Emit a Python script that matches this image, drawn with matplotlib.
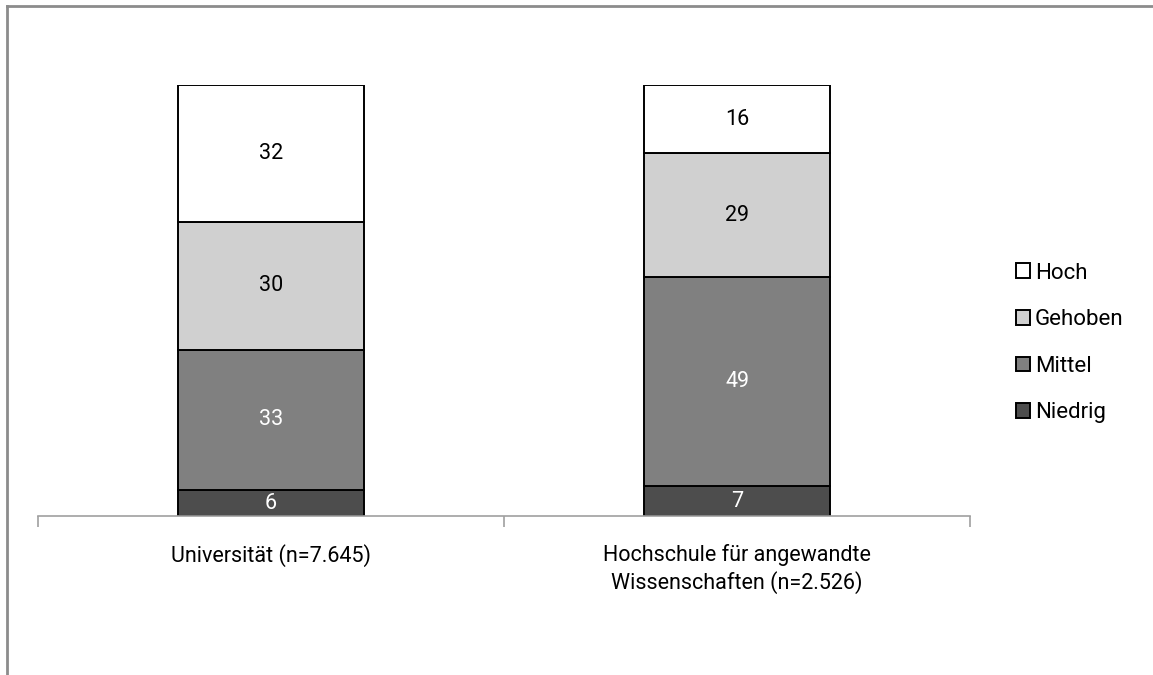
import matplotlib.pyplot as plt
from matplotlib.lines import Line2D
import numpy as np

plt.rcParams['font.family'] = ['Roboto', 'DejaVu Sans']

categories = ['Universität (n=7.645)', 'Hochschule für angewandte\nWissenschaften (n=2.526)']
series = ['Niedrig', 'Mittel', 'Gehoben', 'Hoch']
values = {
    'Niedrig': [6, 7],
    'Mittel': [33, 49],
    'Gehoben': [30, 29],
    'Hoch': [32, 16],
}
colors = {'Niedrig': '#4d4d4d', 'Mittel': '#808080', 'Gehoben': '#d0d0d0', 'Hoch': '#ffffff'}
label_colors = {'Niedrig': 'white', 'Mittel': 'white', 'Gehoben': 'black', 'Hoch': 'black'}

fig = plt.figure(figsize=(11.53, 6.75), dpi=100)
ax = fig.add_axes([38/1153, 1 - 516/675, (970-38)/1153, (516-85)/675])

x = np.arange(len(categories))
bottom = np.zeros(len(categories))
handles = {}
for s in series:
    vals = np.array(values[s], dtype=float)
    bars = ax.bar(x, vals, 0.4, bottom=bottom, color=colors[s], edgecolor='black',
                  linewidth=1.4, label=s, zorder=2)
    handles[s] = bars
    for xi, v, b in zip(x, vals, bottom):
        ax.text(xi, b + v / 2, f'{v:.0f}', ha='center', va='center',
                fontsize=15.5, color=label_colors[s], zorder=3)
    bottom += vals

ax.set_xlim(-0.5, 1.5)
ax.set_ylim(0, 101)
ax.set_yticks([])
for sp in ['left', 'right', 'top']:
    ax.spines[sp].set_visible(False)
ax.spines['bottom'].set_color('#a0a0a0')
ax.spines['bottom'].set_linewidth(1.2)

ax.set_xticks(x)
ax.set_xticklabels(categories, fontsize=15.5, linespacing=1.3)
ax.tick_params(axis='x', which='major', length=0, pad=20)
ax.set_xticks([-0.5, 0.5, 1.5], minor=True)
ax.tick_params(axis='x', which='minor', length=8, width=1.2, color='#a0a0a0', direction='out')

order = ['Hoch', 'Gehoben', 'Mittel', 'Niedrig']
leg = fig.legend([handles[s] for s in order], order, loc='center left',
                 bbox_to_anchor=(1016/1153, 1 - 343/675), frameon=False,
                 fontsize=16, handlelength=0.65, handleheight=0.65, handletextpad=0.2,
                 labelspacing=1.15, borderaxespad=0, borderpad=0)

# outer frame lines (left and top)
fig.add_artist(Line2D([7/1153, 7/1153], [0, 1 - 6/675], transform=fig.transFigure,
                      color='#8c8c8c', linewidth=2))
fig.add_artist(Line2D([7/1153, 1], [1 - 6/675, 1 - 6/675], transform=fig.transFigure,
                      color='#8c8c8c', linewidth=2))

fig.savefig('out.png', dpi=100)
